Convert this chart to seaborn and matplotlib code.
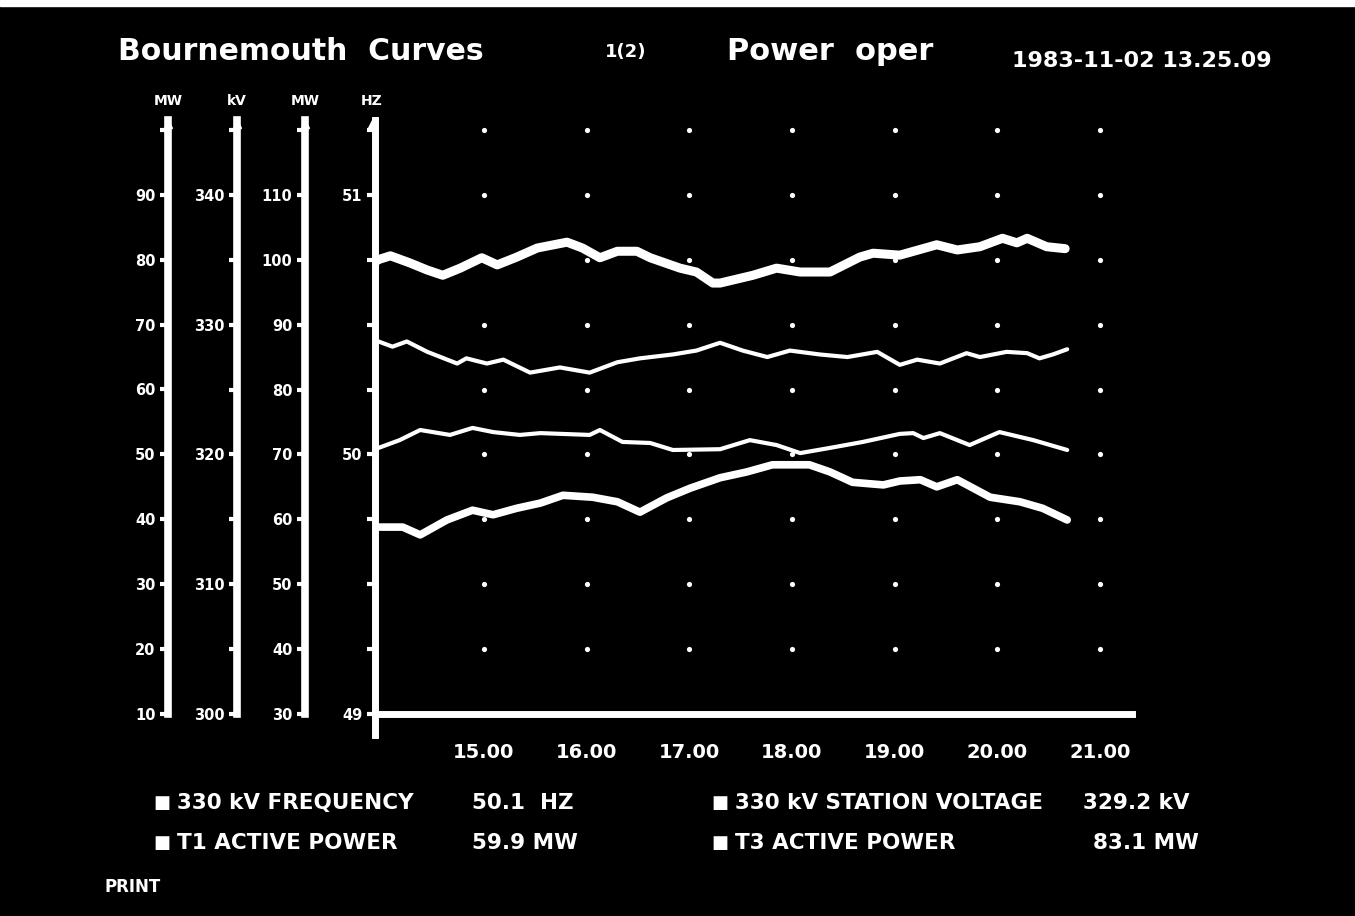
import numpy as np
import matplotlib
matplotlib.use("Agg")
import matplotlib.pyplot as plt
import seaborn as sns

# T3 active power (MW) - thick top trace, outer left scale
t3_hours = [13.94, 13.97, 14.09, 14.28, 14.45, 14.60, 14.77, 14.98, 15.13, 15.32, 15.52, 15.81,
            15.96, 16.13, 16.30, 16.49, 16.62, 16.91, 17.07, 17.23, 17.30, 17.62, 17.85, 18.08,
            18.37, 18.66, 18.79, 19.05, 19.41, 19.61, 19.83, 20.05, 20.19, 20.29, 20.48, 20.66]
t3_power = [79.6, 80.0, 80.6, 79.5, 78.4, 77.6, 78.7, 80.3, 79.2, 80.4, 81.8, 82.7,
            81.8, 80.3, 81.3, 81.3, 80.3, 78.7, 78.1, 76.4, 76.4, 77.6, 78.7, 78.1,
            78.1, 80.4, 81.0, 80.7, 82.3, 81.5, 82.0, 83.3, 82.6, 83.3, 82.0, 81.7]

# 330 kV station voltage (kV)
kv_hours = [13.94, 14.11, 14.25, 14.45, 14.74, 14.83, 15.03, 15.19, 15.45, 15.74, 16.03, 16.30,
            16.52, 16.84, 17.07, 17.30, 17.52, 17.76, 17.98, 18.27, 18.54, 18.83, 19.05, 19.22,
            19.44, 19.70, 19.83, 20.09, 20.29, 20.41, 20.54, 20.68]
kv_voltage = [328.8, 328.3, 328.7, 327.9, 327.0, 327.4, 327.0, 327.3, 326.3, 326.7, 326.3, 327.1,
              327.4, 327.7, 328.0, 328.6, 328.0, 327.5, 328.0, 327.7, 327.5, 327.9, 326.9, 327.3,
              327.0, 327.8, 327.5, 327.9, 327.8, 327.4, 327.7, 328.1]

# 330 kV frequency (Hz)
hz_hours = [13.94, 14.18, 14.38, 14.67, 14.89, 15.09, 15.35, 15.55, 16.03, 16.13, 16.35, 16.62,
            16.84, 17.30, 17.59, 17.85, 18.08, 18.37, 18.69, 19.05, 19.18, 19.28, 19.44, 19.73,
            20.02, 20.35, 20.68]
hz_freq = [50.020, 50.055, 50.094, 50.075, 50.102, 50.086, 50.075, 50.082, 50.075, 50.094, 50.048, 50.044,
           50.017, 50.020, 50.055, 50.036, 50.005, 50.025, 50.048, 50.079, 50.082, 50.063, 50.082, 50.036,
           50.086, 50.055, 50.017]

# T1 active power (MW) - thick bottom trace
t1_hours = [13.94, 14.21, 14.38, 14.64, 14.89, 15.09, 15.32, 15.55, 15.77, 16.06, 16.30, 16.52,
            16.78, 17.01, 17.30, 17.56, 17.81, 18.17, 18.37, 18.59, 18.89, 19.05, 19.25, 19.41,
            19.61, 19.93, 20.22, 20.44, 20.68]
t1_power = [58.8, 58.8, 57.6, 59.9, 61.4, 60.7, 61.7, 62.5, 63.7, 63.4, 62.7, 61.1,
            63.3, 64.8, 66.4, 67.3, 68.4, 68.4, 67.3, 65.7, 65.3, 65.9, 66.1, 65.0,
            66.1, 63.4, 62.7, 61.7, 59.9]

hour_ticks = [15, 16, 17, 18, 19, 20, 21]
hour_labels = ["15.00", "16.00", "17.00", "18.00", "19.00", "20.00", "21.00"]
t3_ticks = [10, 20, 30, 40, 50, 60, 70, 80, 90]
kv_ticks = [300, 310, 320, 330, 340]
t1_ticks = [30, 40, 50, 60, 70, 80, 90, 100, 110]
hz_ticks = [49, 50, 51]
axis_units = ["MW", "kV", "MW", "HZ"]

legend_names = ["330 kV FREQUENCY", "330 kV STATION VOLTAGE", "T1 ACTIVE POWER", "T3 ACTIVE POWER"]
legend_values = ["50.1  HZ", "329.2 kV", "59.9 MW", "83.1 MW"]

sns.set_theme(style="dark", rc={"axes.facecolor": "black", "figure.facecolor": "black",
                                "text.color": "white", "xtick.color": "white", "ytick.color": "white"})
plt.rcParams["font.family"] = ["DejaVu Sans"]
plt.rcParams["font.weight"] = "bold"

W, H = 1355, 916
fig = plt.figure(figsize=(W / 100, H / 100), dpi=100)


def px(x, y):
    return x / W, 1 - y / H


# plot frame in pixels
left, right, bottom, top = 375, 1132, 714, 120
row_px = 64.9
n_rows = (bottom - top) / row_px

ax = fig.add_axes([left / W, 1 - bottom / H, (right - left) / W, (bottom - top) / H])
ax.set_facecolor("black")
ax.set_xlim(13.94, 13.94 + (right - left) / 102.7)
ax.set_ylim(49, 49 + 0.25 * n_rows)

# dotted grid at every hour / every scale division
gx, gy = np.meshgrid(hour_ticks, np.arange(49.25, 51.3, 0.25))
ax.scatter(gx.ravel(), gy.ravel(), s=14, color="white", linewidths=0, zorder=1)

sns.lineplot(x=hz_hours, y=hz_freq, ax=ax, color="white", linewidth=3, zorder=3)

ax.set_xticks(hour_ticks)
ax.set_xticklabels(hour_labels)
ax.set_xticks(np.arange(14.5, 21.1, 0.5), minor=True)
ax.set_yticks(hz_ticks)
ax.set_yticks(np.arange(49.25, 51.3, 0.25), minor=True)
ax.tick_params(axis="x", which="both", direction="out", length=9, width=3, pad=12, labelsize=14)
ax.tick_params(axis="y", which="both", direction="out", length=6, width=3, pad=3, labelsize=10.5)
ax.set_xlabel("")
ax.set_ylabel("")
for s in ["top", "right"]:
    ax.spines[s].set_visible(False)
for s in ["left", "bottom"]:
    ax.spines[s].set_color("white")
    ax.spines[s].set_linewidth(5)
ax.spines["left"].set_bounds(48.92, 49 + 0.25 * n_rows)
ax.grid(False)


def side_axis(x_pix, lo, step, series_x, series_y, major, minor, lw):
    a = ax.twinx()
    a.set_ylim(lo, lo + step * n_rows)
    sns.lineplot(x=series_x, y=series_y, ax=a, color="white", linewidth=lw, zorder=3)
    a.yaxis.tick_left()
    a.set_yticks(major)
    a.set_yticks(minor, minor=True)
    a.tick_params(axis="y", which="both", direction="out", length=6, width=3, pad=3, labelsize=10.5)
    for s in ["top", "right", "bottom"]:
        a.spines[s].set_visible(False)
    a.spines["left"].set_visible(True)
    a.spines["left"].set_position(("axes", (x_pix - left) / (right - left)))
    a.spines["left"].set_color("white")
    a.spines["left"].set_linewidth(5.5)
    a.set_ylabel("")
    a.grid(False)
    return a


side_axis(168, 10, 10, t3_hours, t3_power, t3_ticks, np.arange(10, 101, 10), 6.5)
side_axis(237, 300, 5, kv_hours, kv_voltage, kv_ticks, np.arange(300, 346, 5), 3)
side_axis(305, 30, 10, t1_hours, t1_power, t1_ticks, np.arange(30, 121, 10), 5.5)

# axis unit headers and arrow tips
for xp, unit in zip([168, 237, 305, 372], axis_units):
    fig.text(*px(xp, 101), unit, ha="center", va="center", fontsize=10, color="white")
    fig.lines.append(plt.Line2D([xp / W], [1 - 124 / H], marker="^", markersize=6,
                                color="white", transform=fig.transFigure))

# header
fig.text(*px(118, 52), "Bournemouth  Curves", ha="left", va="center", fontsize=21.5, fontweight="bold")
fig.text(*px(605, 52), "1(2)", ha="left", va="center", fontsize=13)
fig.text(*px(727, 52), "Power  oper", ha="left", va="center", fontsize=22, fontweight="bold")
fig.text(*px(1012, 61), "1983-11-02 13.25.09", ha="left", va="center", fontsize=16)

# legend block
rows_y = [803, 803, 843, 843]
name_x = [177, 735, 177, 735]
value_x = [472, 1083, 472, 1093]
for name, val, yy, nx, vx in zip(legend_names, legend_values, rows_y, name_x, value_x):
    fig.text(*px(nx - 15, yy), "■", ha="center", va="center", fontsize=13)
    fig.text(*px(nx, yy), name, ha="left", va="center", fontsize=15.5)
    fig.text(*px(vx, yy), val, ha="left", va="center", fontsize=15.5)
fig.text(*px(105, 887), "PRINT", ha="left", va="center", fontsize=12)

# white strip along the top edge of the photo
fig.patches.append(plt.Rectangle((0, 1 - 6 / H), 1, 6 / H, color="white", transform=fig.transFigure))

fig.savefig("out.png", dpi=100, facecolor="black")
